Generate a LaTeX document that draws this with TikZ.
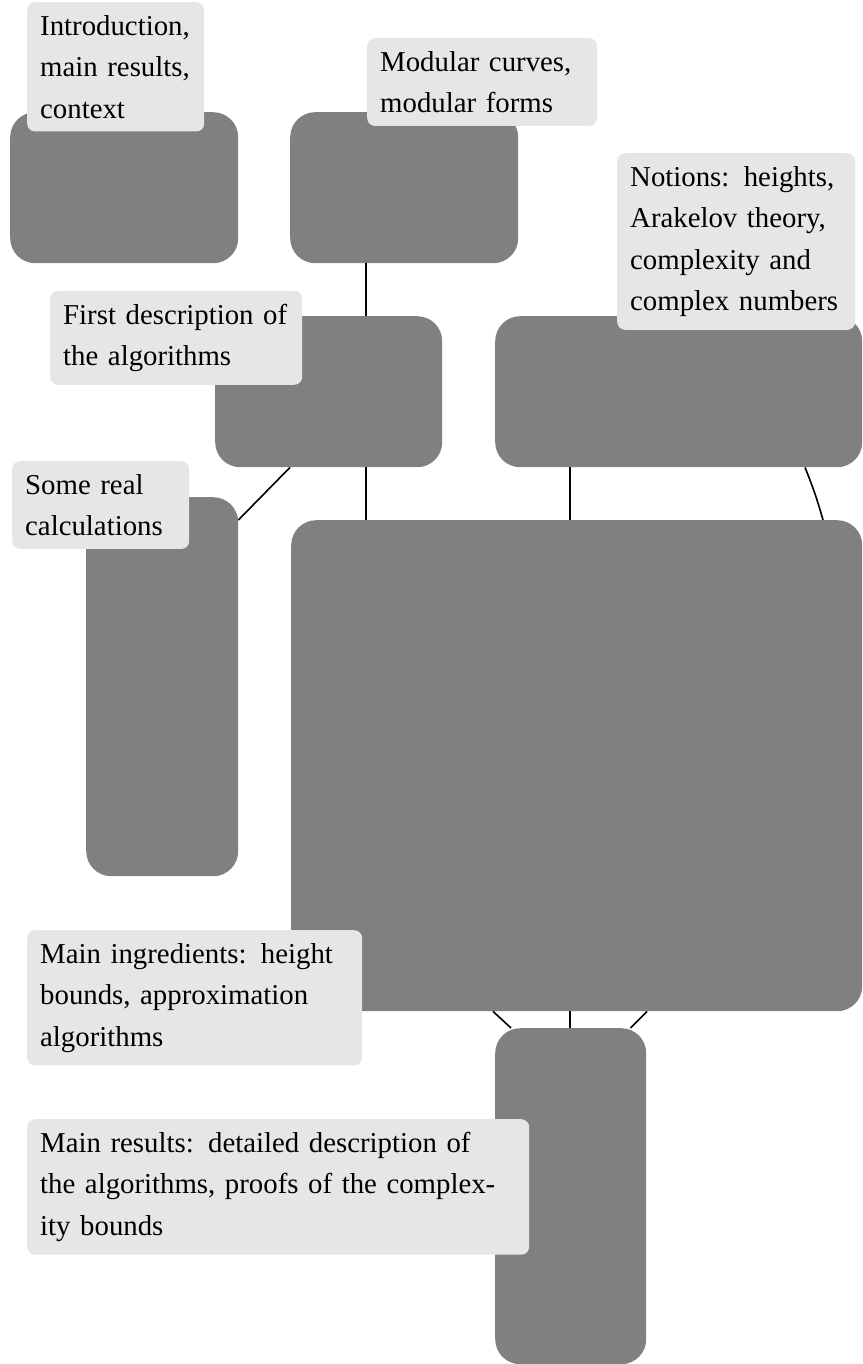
\documentclass[tikz,border=0pt]{standalone}
\usepackage{fontspec}
\setmainfont{Liberation Serif}
\begin{document}
\begin{tikzpicture}[x=1pt,y=-1pt,
  part/.style={rectangle,rounded corners=25pt,fill=boxgray,draw=none,inner sep=0pt,anchor=north west},
  lbl/.style={rectangle,rounded corners=8pt,fill=lblgray,draw=none,inner sep=13pt,align=left,
    font=\fontsize{28.8pt}{41.5pt}\selectfont},
  link/.style={line width=1.6pt,black}]
\definecolor{boxgray}{HTML}{808080}
\definecolor{lblgray}{HTML}{E6E6E6}
\useasboundingbox (0,0) rectangle (862,1364);
% main boxes
\node[part,minimum width=228pt,minimum height=151pt] (A) at (10,112) {};
\node[part,minimum width=228pt,minimum height=151pt] (B) at (290,112) {};
\node[part,minimum width=227pt,minimum height=151pt] (C) at (215,316) {};
\node[part,minimum width=367pt,minimum height=151pt] (D) at (495,316) {};
\node[part,minimum width=152pt,minimum height=379pt] (E) at (86,497) {};
\node[part,minimum width=571pt,minimum height=491pt] (F) at (291,520) {};
\node[part,minimum width=151pt,minimum height=336pt] (G) at (495,1028) {};
% connectors
\draw[link] ([xshift=76pt]B.south west) -- ([xshift=76pt]B.south west |- C.north);
\draw[link] ([xshift=151pt]C.south west) -- ([xshift=151pt]C.south west |- F.north);
\draw[link] ([xshift=75pt]C.south west) -- ([yshift=-23pt]E.north east);
\draw[link] ([xshift=75pt]D.south west) -- ([xshift=75pt]D.south west |- F.north);
\draw[link] ([xshift=310pt]D.south west) to[bend left=3] ([xshift=532pt]F.north west);
\draw[link] ([xshift=202pt]F.south west) -- ([xshift=16pt]G.north west);
\draw[link] ([xshift=75pt]G.north west) -- ([xshift=75pt]G.north west |- F.south);
\draw[link] ([xshift=356pt]F.south west) -- ([xshift=-16pt]G.north east);
% labels
\node[lbl,text width=151pt,anchor=north west] (LA) at (27,2) {Introduction,\\main results,\\context};
\node[lbl,text width=204pt,anchor=north west] (LB) at (367,38) {Modular curves,\\modular forms};
\node[lbl,text width=212pt,anchor=north west] (LD) at (617,153) {Notions: heights,\\Arakelov theory,\\complexity and\\complex numbers};
\node[lbl,text width=226pt,anchor=south west] (LC) at (50,385) {First description of\\the algorithms};
\node[lbl,text width=151pt,anchor=north west] (LE) at (12,461) {Some real\\calculations};
\node[lbl,text width=309pt,anchor=north west] (LF) at (27,930) {Main ingredients: height\\bounds, approximation\\algorithms};
\node[lbl,text width=476pt,anchor=north west] (LG) at (27,1119) {Main results: detailed description of\\the algorithms, proofs of the complex-\\ity bounds};
\end{tikzpicture}
\end{document}
